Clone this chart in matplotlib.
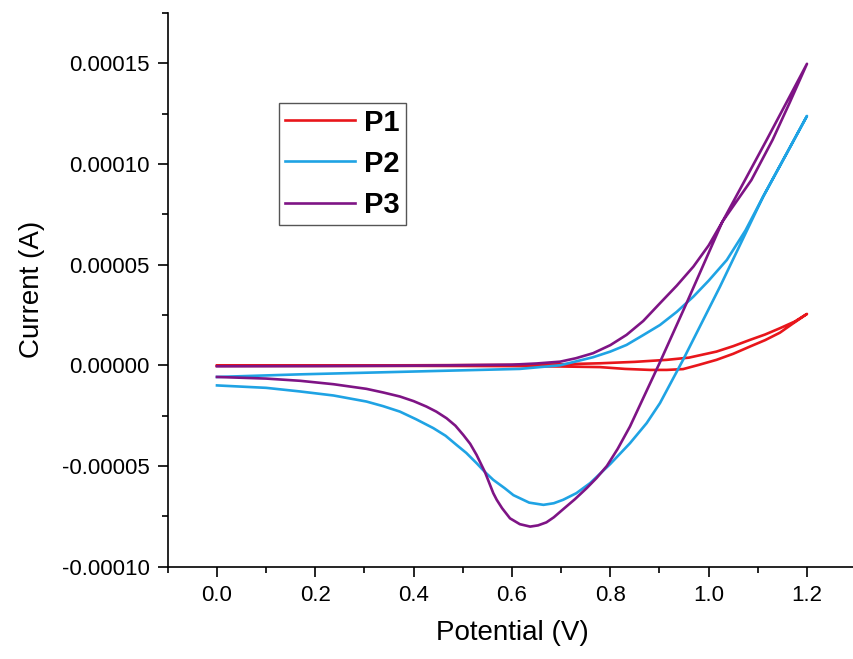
import numpy as np
import matplotlib.pyplot as plt
from matplotlib.ticker import MultipleLocator, FormatStrFormatter

plt.rcParams['font.family'] = ['Liberation Sans', 'DejaVu Sans']

# P1 (red) - forward and reverse scan
p1_fwd_x = [0.0, 0.2, 0.4, 0.6, 0.7, 0.78, 0.85, 0.915, 0.96, 1.016, 1.05, 1.084, 1.115, 1.145, 1.175, 1.2]
p1_fwd_y = [-0.2e-6, -0.1e-6, 0.0, 0.2e-6, 0.5e-6, 1.0e-6, 1.7e-6, 2.7e-6, 3.8e-6, 6.8e-6, 9.5e-6,
            1.26e-5, 1.53e-5, 1.84e-5, 2.17e-5, 2.55e-5]
p1_rev_x = [1.2, 1.17, 1.145, 1.115, 1.084, 1.05, 1.016, 0.98, 0.948, 0.915, 0.881, 0.83, 0.779, 0.7,
            0.6, 0.4, 0.2, 0.0]
p1_rev_y = [2.55e-5, 2.05e-5, 1.62e-5, 1.25e-5, 9.3e-6, 5.7e-6, 2.7e-6, 0.2e-6, -1.9e-6, -2.3e-6,
            -2.3e-6, -1.8e-6, -0.9e-6, -0.6e-6, -0.4e-6, -0.3e-6, -0.3e-6, -0.3e-6]

# P2 (blue)
p2_fwd_x = [0.0, 0.169, 0.4, 0.616, 0.698, 0.765, 0.8, 0.833, 0.867, 0.901, 0.935, 0.969, 1.0, 1.037,
            1.075, 1.111, 1.159, 1.2]
p2_fwd_y = [-5.8e-6, -4.5e-6, -3.1e-6, -1.8e-6, 0.0, 4.0e-6, 6.8e-6, 1.01e-5, 1.5e-5, 2.0e-5, 2.65e-5,
            3.41e-5, 4.2e-5, 5.23e-5, 6.7e-5, 8.38e-5, 1.053e-4, 1.238e-4]
p2_rev_x = [1.2, 1.111, 1.023, 0.948, 0.901, 0.874, 0.84, 0.8, 0.759, 0.731, 0.704, 0.685, 0.664,
            0.635, 0.603, 0.585, 0.562, 0.545, 0.528, 0.507, 0.487, 0.465, 0.44, 0.405, 0.372, 0.338,
            0.304, 0.237, 0.169, 0.1, 0.0]
p2_rev_y = [1.238e-4, 8.38e-5, 3.9e-5, 2.7e-6, -1.88e-5, -2.87e-5, -3.87e-5, -4.9e-5, -5.85e-5,
            -6.35e-5, -6.68e-5, -6.85e-5, -6.93e-5, -6.82e-5, -6.45e-5, -6.1e-5, -5.69e-5, -5.3e-5,
            -4.86e-5, -4.35e-5, -3.95e-5, -3.5e-5, -3.12e-5, -2.68e-5, -2.3e-5, -2.03e-5, -1.8e-5,
            -1.5e-5, -1.3e-5, -1.12e-5, -1.0e-5]

# P3 (purple)
p3_fwd_x = [0.0, 0.2, 0.4, 0.6, 0.65, 0.698, 0.73, 0.765, 0.8, 0.833, 0.867, 0.901, 0.935, 0.969,
            1.0, 1.028, 1.087, 1.13, 1.165, 1.2]
p3_fwd_y = [-0.5e-6, -0.4e-6, -0.2e-6, 0.3e-6, 0.9e-6, 1.8e-6, 3.5e-6, 6.0e-6, 1.0e-5, 1.51e-5,
            2.2e-5, 3.08e-5, 3.95e-5, 4.9e-5, 5.95e-5, 7.13e-5, 9.2e-5, 1.119e-4, 1.305e-4, 1.497e-4]
p3_rev_x = [1.2, 1.118, 1.074, 1.028, 0.955, 0.9, 0.84, 0.815, 0.793, 0.772, 0.752, 0.728, 0.704,
            0.685, 0.67, 0.653, 0.637, 0.616, 0.596, 0.58, 0.569, 0.562, 0.545, 0.528, 0.515, 0.501,
            0.485, 0.467, 0.446, 0.426, 0.4, 0.372, 0.338, 0.304, 0.237, 0.169, 0.1, 0.0]
p3_rev_y = [1.497e-4, 1.119e-4, 9.2e-5, 7.13e-5, 3.08e-5, 1.0e-6, -3.04e-5, -4.15e-5, -5.0e-5,
            -5.6e-5, -6.1e-5, -6.65e-5, -7.15e-5, -7.55e-5, -7.8e-5, -7.95e-5, -8.01e-5, -7.89e-5,
            -7.6e-5, -7.1e-5, -6.68e-5, -6.35e-5, -5.3e-5, -4.45e-5, -3.9e-5, -3.46e-5, -3.0e-5,
            -2.63e-5, -2.3e-5, -2.05e-5, -1.78e-5, -1.55e-5, -1.35e-5, -1.17e-5, -9.4e-6, -7.7e-6,
            -6.6e-6, -5.8e-6]

labels = ['P1', 'P2', 'P3']
colors = ['#E8161B', '#1FA3E4', '#7E1485']

curves = [(p1_fwd_x + p1_rev_x, p1_fwd_y + p1_rev_y),
          (p2_fwd_x + p2_rev_x, p2_fwd_y + p2_rev_y),
          (p3_fwd_x + p3_rev_x, p3_fwd_y + p3_rev_y)]

fig = plt.figure(figsize=(8.54, 6.59), dpi=100)
ax = fig.add_axes([0.1965, 0.1401, 0.806, 0.8404])

for (x, y), lab, c in zip(curves, labels, colors):
    ax.plot(x, y, color=c, lw=1.9, label=lab, solid_joinstyle='round')

ax.set_xlim(-0.1, 1.3)
ax.set_ylim(-0.0001, 0.000175)

ax.xaxis.set_major_locator(MultipleLocator(0.2))
ax.xaxis.set_minor_locator(MultipleLocator(0.1))
ax.yaxis.set_major_locator(MultipleLocator(0.00005))
ax.yaxis.set_minor_locator(MultipleLocator(0.000025))
ax.xaxis.set_major_formatter(FormatStrFormatter('%.1f'))
ax.yaxis.set_major_formatter(FormatStrFormatter('%.5f'))

ax.spines['top'].set_visible(False)
ax.spines['right'].set_visible(False)
for s in ['left', 'bottom']:
    ax.spines[s].set_linewidth(1.2)

ax.tick_params(which='major', direction='out', length=7, width=1.2, labelsize=16, pad=6)
ax.tick_params(which='minor', direction='out', length=4, width=1.2)

ax.set_xlabel('Potential (V)', fontsize=20, labelpad=10)
ax.set_ylabel('Current (A)', fontsize=20, labelpad=12)

leg = ax.legend(loc='upper left', bbox_to_anchor=(0.1615, 0.8378), borderaxespad=0,
                fancybox=False, edgecolor='#555555', framealpha=1,
                prop={'size': 21, 'weight': 'bold'}, handlelength=2.4, handletextpad=0.32,
                labelspacing=0.45, borderpad=0.2)
leg.get_frame().set_linewidth(1.0)

fig.savefig('out.png', dpi=100)
